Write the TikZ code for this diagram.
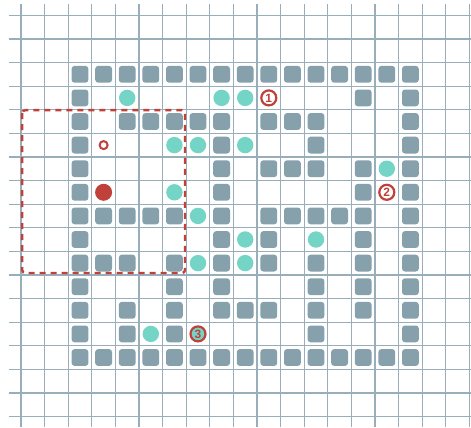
\documentclass[tikz,border=0pt]{standalone}
\usepackage{fontspec}
\setsansfont{Liberation Sans}
\usepackage{tikz}
\usetikzlibrary{calc}
\definecolor{gridline}{HTML}{98afbb}
\definecolor{wallgray}{HTML}{86a0ac}
\definecolor{goalteal}{HTML}{74d5c7}
\definecolor{markred}{HTML}{c0403a}
\tikzset{
  wall/.style={fill=wallgray, rounded corners=3pt, minimum size=16.8pt, inner sep=0pt},
  goal/.style={circle, fill=goalteal, minimum size=16.4pt, inner sep=0pt},
  numbered/.style={circle, draw=markred, line width=2.2pt, fill=white, text=markred,
    minimum size=15pt, inner sep=0pt, font=\sffamily\bfseries\fontsize{12}{12}\selectfont},
}
\begin{document}
\begin{tikzpicture}[x=23.6pt, y=-23.6pt]
  \useasboundingbox (-0.8898,-0.6483) rectangle (19.068,17.445);
  \fill[white] (-0.8898,-0.6483) rectangle (19.068,17.445);
  % grid
  \foreach \k in {0,...,19}
    \draw[gridline, line width=1.2pt] (\k,-0.48) -- (\k,17.445);
  \foreach \k in {0,...,17}
    \draw[gridline, line width=1.2pt] (-0.51,\k) -- (19.068,\k);
  % walls, row by row
  \foreach \j/\cols in {2/{2,3,4,5,6,7,8,9,10,11,12,13,14,15,16},
                        3/{2,14,16},
                        4/{2,4,5,6,7,8,10,11,12,16},
                        5/{2,8,12,16},
                        6/{2,8,10,11,12,14,16},
                        7/{2,8,14,16},
                        8/{2,3,4,5,6,8,10,11,12,13,14,16},
                        9/{2,8,10,14,16},
                        10/{2,3,4,6,8,10,12,14,16},
                        11/{2,6,8,12,14,16},
                        12/{2,4,6,8,9,10,12,14,16},
                        13/{2,4,6,12,16},
                        14/{2,3,4,5,6,7,8,9,10,11,12,13,14,15,16}}{
    \foreach \i in \cols
      \node[wall] (w-\i-\j) at (\i+0.5,\j+0.5) {};
  }
  % goals
  \foreach \i/\j in {4/3, 8/3, 9/3, 6/5, 7/5, 9/5, 15/6, 6/7, 7/8,
                     9/9, 12/9, 7/10, 9/10, 5/13}
    \node[goal] (g-\i-\j) at (\i+0.5,\j+0.5) {};
  % numbered marks
  \node[numbered] (mark1) at (10.5,3.5) {1};
  \node[numbered] (mark2) at (15.5,7.5) {2};
  \node[numbered, fill=goalteal] (mark3) at (7.5,13.5) {3};
  % player and its start
  \node[circle, draw=markred, line width=2pt, minimum size=8pt, inner sep=0pt] (start) at (3.5,5.5) {};
  \node[circle, fill=markred, minimum size=17pt, inner sep=0pt] (player) at (3.5,7.5) {};
  % view window
  \draw[markred, line width=2.4pt, dash pattern=on 6pt off 5pt, rounded corners=3pt]
    (0.05,4.02) rectangle (6.95,10.92);
\end{tikzpicture}
\end{document}
